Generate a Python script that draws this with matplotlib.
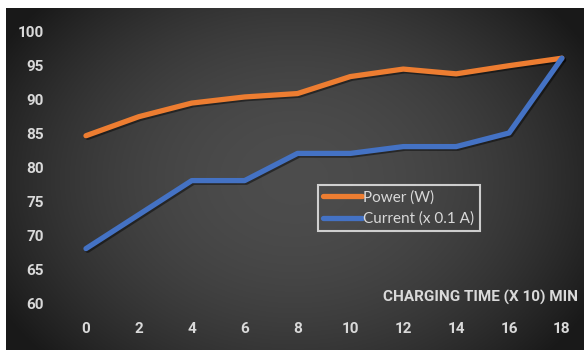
import numpy as np
import matplotlib
matplotlib.use("Agg")
import matplotlib.pyplot as plt
import matplotlib.patheffects as pe

plt.rcParams['font.family'] = ['Roboto', 'DejaVu Sans']

# charging time (x 10 min)
time = [0, 2, 4, 6, 8, 10, 12, 14, 16, 18]
power_w = [84.6, 87.4, 89.4, 90.3, 90.8, 93.3, 94.4, 93.7, 94.9, 96]
current_01a = [68, 73, 78, 78, 82, 82, 83, 83, 85, 96]
y_ticks = [60, 65, 70, 75, 80, 85, 90, 95, 100]

W, H = 584, 350
fig = plt.figure(figsize=(W / 100, H / 100), dpi=100)
fig.patch.set_facecolor('white')

# dark radial-ish gradient panel behind the plot
bg = fig.add_axes([6 / W, 0, (W - 6) / W, (H - 8) / H])
gx, gy = np.meshgrid(np.linspace(-1, 1, 400), np.linspace(-1, 1, 240))
shade = 0.30 - 0.17 * (0.85 * gx ** 2 + 0.5 * gy ** 2)
shade = np.clip(shade, 0.1, 1)
bg.imshow(np.dstack([shade] * 3), aspect='auto', extent=[0, 1, 0, 1])
bg.set_axis_off()

ax = fig.add_axes([60 / W, 1 - 315 / H, (578 - 60) / W, (315 - 20) / H])
ax.set_facecolor('none')

shadow = [pe.SimpleLineShadow(offset=(1.2, -1.2), shadow_color='black', alpha=0.45),
          pe.Normal()]
ax.plot(time, power_w, color='#ED7D31', lw=3.8, solid_capstyle='round',
        solid_joinstyle='round', label='Power (W)', path_effects=shadow)
ax.plot(time, current_01a, color='#4472C4', lw=3.8, solid_capstyle='round',
        solid_joinstyle='round', label='Current (x 0.1 A)', path_effects=shadow)

ax.set_xlim(-26 / 26.44, (578 - 86) / 26.44)
ax.set_ylim(100 - 284 / 6.8, 100 + 11 / 6.8)
ax.set_xticks(time)
ax.set_yticks(y_ticks)
for s in ax.spines.values():
    s.set_visible(False)
ax.tick_params(length=0, colors='#d9d9d9', labelsize=11)
ax.tick_params(axis='y', pad=11.5)
ax.tick_params(axis='x', pad=5)
for lbl in ax.get_xticklabels() + ax.get_yticklabels():
    lbl.set_fontweight('bold')

ax.text(1.0, 1 - (297 - 20) / 295, 'CHARGING TIME (X 10) MIN', transform=ax.transAxes,
        ha='right', va='center', color='#d9d9d9', fontsize=11, fontweight='bold')

leg = ax.legend(loc='upper left', bbox_to_anchor=(318 / W, 1 - 185 / H),
                bbox_transform=fig.transFigure, frameon=True,
                prop={'family': 'Lato', 'size': 11},
                handlelength=2.55, handletextpad=0.05, borderpad=0.35,
                labelspacing=0.45, borderaxespad=0, fancybox=False)
leg.get_frame().set_facecolor('none')
leg.get_frame().set_edgecolor('#f2f2f2')
leg.get_frame().set_linewidth(1.5)
for t in leg.get_texts():
    t.set_color('#d9d9d9')
for line in leg.get_lines():
    line.set_path_effects([])

fig.savefig('out.png', dpi=100)
